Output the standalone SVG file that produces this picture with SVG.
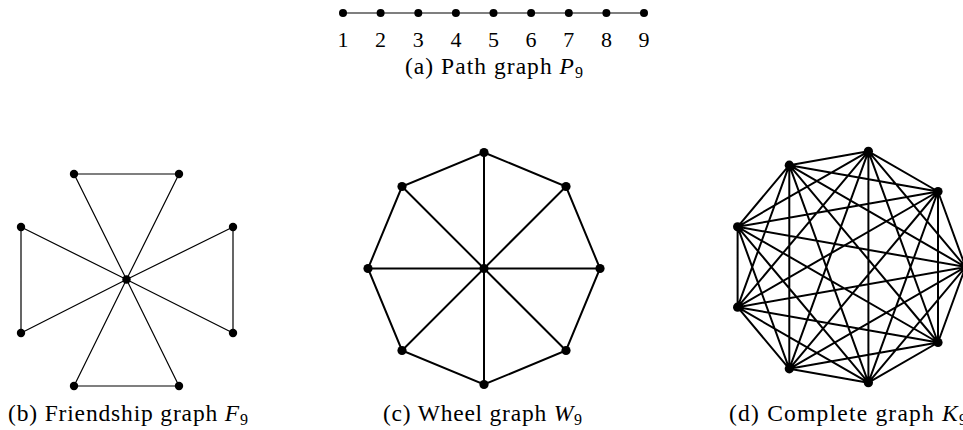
<svg xmlns="http://www.w3.org/2000/svg" width="963" height="430" viewBox="0 0 963 430">
<style>
text{font-family:"Liberation Serif","DejaVu Serif",serif;fill:#000}
.cap{font-size:23.5px}
.lab{font-size:22px;text-anchor:middle}
.it{font-style:italic}
.sub{font-size:16px}
.thin{stroke:#000;stroke-width:1.2;fill:none}
.thick{stroke:#000;stroke-width:2;fill:none}
.n{fill:#000}
</style>
<rect width="963" height="430" fill="#fff"/>
<!-- (a) Path graph -->
<g id="connectors-a"><path class="thin" d="M343 13H644"/></g>
<g id="a1"><circle class="n" cx="343" cy="13" r="4"/><text class="lab" x="343" y="47">1</text></g>
<g id="a2"><circle class="n" cx="380.6" cy="13" r="4"/><text class="lab" x="380.6" y="47">2</text></g>
<g id="a3"><circle class="n" cx="418.3" cy="13" r="4"/><text class="lab" x="418.3" y="47">3</text></g>
<g id="a4"><circle class="n" cx="455.9" cy="13" r="4"/><text class="lab" x="455.9" y="47">4</text></g>
<g id="a5"><circle class="n" cx="493.5" cy="13" r="4"/><text class="lab" x="493.5" y="47">5</text></g>
<g id="a6"><circle class="n" cx="531.1" cy="13" r="4"/><text class="lab" x="531.1" y="47">6</text></g>
<g id="a7"><circle class="n" cx="568.8" cy="13" r="4"/><text class="lab" x="568.8" y="47">7</text></g>
<g id="a8"><circle class="n" cx="606.4" cy="13" r="4"/><text class="lab" x="606.4" y="47">8</text></g>
<g id="a9"><circle class="n" cx="644" cy="13" r="4"/><text class="lab" x="644" y="47">9</text></g>
<text class="cap" x="405" y="74" textLength="178">(a) Path graph <tspan class="it">P</tspan><tspan class="sub" dy="4">9</tspan></text>

<!-- (b) Friendship graph -->
<g id="connectors-b" class="thin">
<path d="M126.5 279.5L74 174M126.5 279.5L179 174M126.5 279.5L21 227M126.5 279.5L21 333M126.5 279.5L233 227M126.5 279.5L233 333M126.5 279.5L74 386M126.5 279.5L179 386M74 174H179M74 386H179M21 227V333M233 227V333"/>
</g>
<g id="b0"><circle class="n" cx="126.5" cy="279.5" r="4.2"/></g>
<g id="b1"><circle class="n" cx="74" cy="174" r="4.2"/></g>
<g id="b2"><circle class="n" cx="179" cy="174" r="4.2"/></g>
<g id="b3"><circle class="n" cx="21" cy="227" r="4.2"/></g>
<g id="b4"><circle class="n" cx="21" cy="333" r="4.2"/></g>
<g id="b5"><circle class="n" cx="233" cy="227" r="4.2"/></g>
<g id="b6"><circle class="n" cx="233" cy="333" r="4.2"/></g>
<g id="b7"><circle class="n" cx="74" cy="386" r="4.2"/></g>
<g id="b8"><circle class="n" cx="179" cy="386" r="4.2"/></g>
<text class="cap" x="8" y="421" textLength="240">(b) Friendship graph <tspan class="it">F</tspan><tspan class="sub" dy="4">9</tspan></text>

<!-- (c) Wheel graph -->
<g id="connectors-c" class="thick">
<path d="M484 152.5L566 186.5L600 268.5L566 350.5L484 384.5L402 350.5L368 268.5L402 186.5Z"/>
<path d="M484 152.5V384.5M368 268.5H600M402 186.5L566 350.5M566 186.5L402 350.5"/>
</g>
<g id="c0"><circle class="n" cx="484" cy="268.5" r="4.6"/></g>
<g id="c1"><circle class="n" cx="484" cy="152.5" r="4.6"/></g>
<g id="c2"><circle class="n" cx="566" cy="186.5" r="4.6"/></g>
<g id="c3"><circle class="n" cx="600" cy="268.5" r="4.6"/></g>
<g id="c4"><circle class="n" cx="566" cy="350.5" r="4.6"/></g>
<g id="c5"><circle class="n" cx="484" cy="384.5" r="4.6"/></g>
<g id="c6"><circle class="n" cx="402" cy="350.5" r="4.6"/></g>
<g id="c7"><circle class="n" cx="368" cy="268.5" r="4.6"/></g>
<g id="c8"><circle class="n" cx="402" cy="186.5" r="4.6"/></g>
<text class="cap" x="383" y="421" textLength="199">(c) Wheel graph <tspan class="it">W</tspan><tspan class="sub" dy="4">9</tspan></text>

<!-- (d) Complete graph -->
<g id="connectors-d" class="thick">
<path d="M965.5 267L938 191.5M965.5 267L868.4 151.3M965.5 267L789.3 165.2M965.5 267L737.6 226.8M965.5 267L737.6 307.2M965.5 267L789.3 368.8M965.5 267L868.4 382.7M965.5 267L938 342.5
M938 191.5L868.4 151.3M938 191.5L789.3 165.2M938 191.5L737.6 226.8M938 191.5L737.6 307.2M938 191.5L789.3 368.8M938 191.5L868.4 382.7M938 191.5L938 342.5
M868.4 151.3L789.3 165.2M868.4 151.3L737.6 226.8M868.4 151.3L737.6 307.2M868.4 151.3L789.3 368.8M868.4 151.3L868.4 382.7M868.4 151.3L938 342.5
M789.3 165.2L737.6 226.8M789.3 165.2L737.6 307.2M789.3 165.2L789.3 368.8M789.3 165.2L868.4 382.7M789.3 165.2L938 342.5
M737.6 226.8L737.6 307.2M737.6 226.8L789.3 368.8M737.6 226.8L868.4 382.7M737.6 226.8L938 342.5
M737.6 307.2L789.3 368.8M737.6 307.2L868.4 382.7M737.6 307.2L938 342.5
M789.3 368.8L868.4 382.7M789.3 368.8L938 342.5
M868.4 382.7L938 342.5"/>
</g>
<g id="d1"><circle class="n" cx="965.5" cy="267" r="4.6"/></g>
<g id="d2"><circle class="n" cx="938" cy="191.5" r="4.6"/></g>
<g id="d3"><circle class="n" cx="868.4" cy="151.3" r="4.6"/></g>
<g id="d4"><circle class="n" cx="789.3" cy="165.2" r="4.6"/></g>
<g id="d5"><circle class="n" cx="737.6" cy="226.8" r="4.6"/></g>
<g id="d6"><circle class="n" cx="737.6" cy="307.2" r="4.6"/></g>
<g id="d7"><circle class="n" cx="789.3" cy="368.8" r="4.6"/></g>
<g id="d8"><circle class="n" cx="868.4" cy="382.7" r="4.6"/></g>
<g id="d9"><circle class="n" cx="938" cy="342.5" r="4.6"/></g>
<text class="cap" x="729" y="421" textLength="238">(d) Complete graph <tspan class="it">K</tspan><tspan class="sub" dy="4">9</tspan></text>
</svg>
